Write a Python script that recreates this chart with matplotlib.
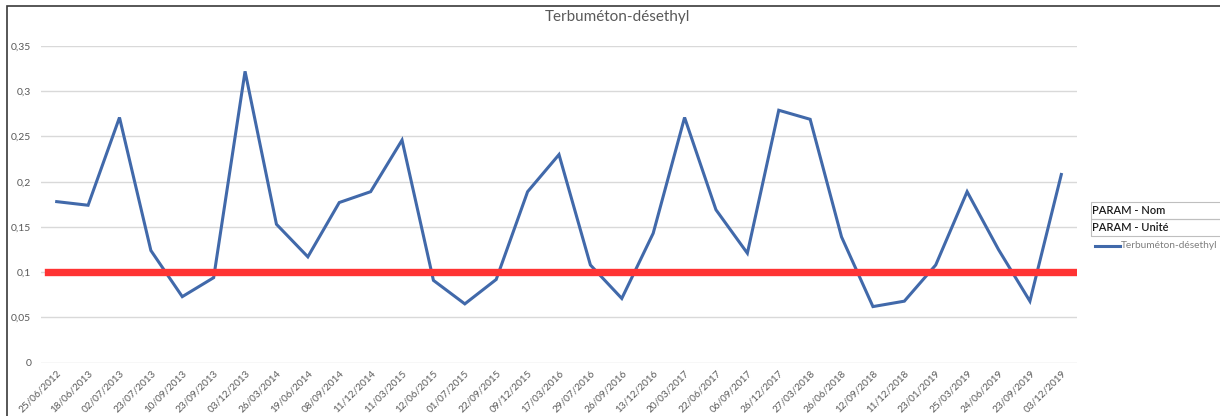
import matplotlib
matplotlib.use("Agg")
import matplotlib.pyplot as plt
from matplotlib.patches import Rectangle
from matplotlib.lines import Line2D
from matplotlib.ticker import FuncFormatter

plt.rcParams['font.family'] = ['Lato', 'DejaVu Sans']

dates = ["25/06/2012", "18/06/2013", "02/07/2013", "23/07/2013", "10/09/2013",
         "23/09/2013", "03/12/2013", "26/03/2014", "19/06/2014", "08/09/2014",
         "11/12/2014", "11/03/2015", "12/06/2015", "01/07/2015", "22/09/2015",
         "09/12/2015", "17/03/2016", "29/07/2016", "26/09/2016", "13/12/2016",
         "20/03/2017", "22/06/2017", "06/09/2017", "26/12/2017", "27/03/2018",
         "26/06/2018", "12/09/2018", "11/12/2018", "23/01/2019", "25/03/2019",
         "24/06/2019", "23/09/2019", "03/12/2019"]
values = [0.178, 0.174, 0.271, 0.124, 0.073, 0.094, 0.322, 0.153, 0.117, 0.177,
          0.189, 0.246, 0.091, 0.065, 0.092, 0.189, 0.230, 0.108, 0.071, 0.143,
          0.271, 0.169, 0.121, 0.279, 0.269, 0.139, 0.062, 0.068, 0.108, 0.189,
          0.125, 0.068, 0.208]
threshold = 0.1
y_ticks = [0, 0.05, 0.1, 0.15, 0.2, 0.25, 0.3, 0.35]
series_name = "Terbuméton-désethyl"
table_rows = ["PARAM - Nom", "PARAM - Unité"]

W, H = 1220, 416
fig = plt.figure(figsize=(W / 100, H / 100), dpi=100)
fig.patch.set_facecolor("white")

# outer chart frame
fig.patches.append(Rectangle((7 / W, -0.1), 1.2, 1 - 6 / H + 0.1,
                             transform=fig.transFigure, fill=False,
                             edgecolor="#3a3a3a", linewidth=1.2))

left, right, top, bottom = 41, 1077, 46, 362.7
ax = fig.add_axes([left / W, 1 - bottom / H, (right - left) / W, (bottom - top) / H])

x = list(range(len(values)))
ax.set_xlim(-0.5, len(values) - 0.5)
ax.set_ylim(0, 0.35)
ax.set_yticks(y_ticks)
ax.yaxis.set_major_formatter(FuncFormatter(lambda v, p: ("%g" % round(v, 2)).replace(".", ",")))
ax.grid(axis="y", color="#d9d9d9", linewidth=1.0)
ax.set_axisbelow(True)
for s in ax.spines.values():
    s.set_visible(False)
ax.tick_params(axis="both", length=0, colors="#595959", labelsize=7.5)
ax.tick_params(axis="y", pad=7)

ax.plot(x, values, color="#4169aa", linewidth=2.2, solid_joinstyle="miter", zorder=3)
ax.axhline(threshold, xmin=0.007, xmax=1.0, color="#ff3333", linewidth=5.3, zorder=4)

ax.set_xticks(x)
ax.set_xticklabels(dates, rotation=45, ha="right", va="top",
                   rotation_mode="anchor", fontsize=7.2, color="#595959")
ax.tick_params(axis="x", pad=4)

fig.text(617 / W, 1 - 17 / H, series_name, ha="center", va="center",
         fontsize=11, color="#595959")

# parameter table beside the plot
tx0 = 1091
for i, row in enumerate(table_rows):
    y0 = 202 + i * 17
    fig.patches.append(Rectangle((tx0 / W, 1 - (y0 + 17) / H), 0.2, 17 / H,
                                 transform=fig.transFigure, fill=False,
                                 edgecolor="#bfbfbf", linewidth=0.8))
    fig.text((tx0 + 1) / W, 1 - (y0 + 8.5) / H, row, ha="left", va="center",
             fontsize=8, fontweight="semibold", color="#1a1a1a")

fig.lines.append(Line2D([1095 / W, 1120 / W], [1 - 246 / H, 1 - 246 / H],
                        transform=fig.transFigure, color="#4169aa", linewidth=2.2))
fig.text(1121 / W, 1 - 246 / H, series_name, ha="left", va="center",
         fontsize=7.3, color="#7f7f7f")

fig.savefig("out.png", dpi=100)
